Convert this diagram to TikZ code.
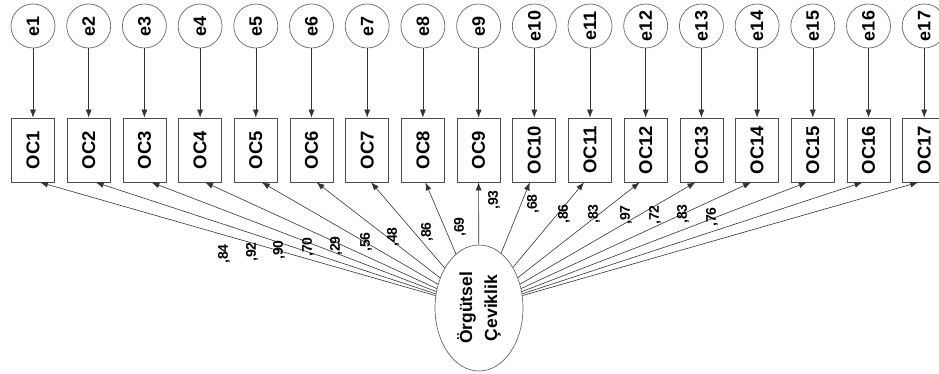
\documentclass[tikz,border=0pt]{standalone}
\usepackage{fontspec}
\setmainfont{Liberation Sans}
\usetikzlibrary{shapes.geometric,arrows.meta}
\tikzset{
	err/.style={circle,draw=black!60,line width=0.7pt,minimum size=44pt,inner sep=0pt,rotate=90,font=\fontsize{18}{18}\selectfont\bfseries},
	obs/.style={rectangle,draw=black!70,line width=0.7pt,minimum width=64pt,minimum height=43pt,inner sep=0pt,rotate=90,font=\fontsize{18.5}{18.5}\selectfont\bfseries},
	lat/.style={ellipse,draw=black!60,line width=0.7pt,minimum width=126pt,minimum height=88pt,inner sep=0pt,rotate=90,align=center,font=\fontsize{17.5}{25}\selectfont\bfseries},
	ld/.style={rotate=90,inner sep=0pt,font=\fontsize{14}{14}\selectfont\bfseries},
	arr/.style={draw=black!80,line width=0.6pt,-{Latex[length=8pt,width=6pt]}}
}
\begin{document}
\begin{tikzpicture}[x=1pt,y=-1pt]
	\useasboundingbox (0,0) rectangle (939,374);
	% error terms
	\node [err] (e1) at (33,26) {e1};
	\node [err] (e2) at (88.7,26) {e2};
	\node [err] (e3) at (144.4,26) {e3};
	\node [err] (e4) at (200.1,26) {e4};
	\node [err] (e5) at (255.8,26) {e5};
	\node [err] (e6) at (311.5,26) {e6};
	\node [err] (e7) at (367.2,26) {e7};
	\node [err] (e8) at (422.9,26) {e8};
	\node [err] (e9) at (478.6,26) {e9};
	\node [err] (e10) at (534.3,26) {e10};
	\node [err] (e11) at (590,26) {e11};
	\node [err] (e12) at (645.7,26) {e12};
	\node [err] (e13) at (701.4,26) {e13};
	\node [err] (e14) at (757.1,26) {e14};
	\node [err] (e15) at (812.8,26) {e15};
	\node [err] (e16) at (868.5,26) {e16};
	\node [err] (e17) at (924.2,26) {e17};

	% items
	\node [obs] (oc1) at (33,150) {OC1};
	\node [obs] (oc2) at (88.7,150) {OC2};
	\node [obs] (oc3) at (144.4,150) {OC3};
	\node [obs] (oc4) at (200.1,150) {OC4};
	\node [obs] (oc5) at (255.8,150) {OC5};
	\node [obs] (oc6) at (311.5,150) {OC6};
	\node [obs] (oc7) at (367.2,150) {OC7};
	\node [obs] (oc8) at (422.9,150) {OC8};
	\node [obs] (oc9) at (478.6,150) {OC9};
	\node [obs] (oc10) at (534.3,150) {OC10};
	\node [obs] (oc11) at (590,150) {OC11};
	\node [obs] (oc12) at (645.7,150) {OC12};
	\node [obs] (oc13) at (701.4,150) {OC13};
	\node [obs] (oc14) at (757.1,150) {OC14};
	\node [obs] (oc15) at (812.8,150) {OC15};
	\node [obs] (oc16) at (868.5,150) {OC16};
	\node [obs] (oc17) at (924.2,150) {OC17};

	\node [lat] (cev) at (479,308) {Örgütsel\\Çeviklik};

	\draw [arr] (e1) -- (oc1);
	\draw [arr] (e2) -- (oc2);
	\draw [arr] (e3) -- (oc3);
	\draw [arr] (e4) -- (oc4);
	\draw [arr] (e5) -- (oc5);
	\draw [arr] (e6) -- (oc6);
	\draw [arr] (e7) -- (oc7);
	\draw [arr] (e8) -- (oc8);
	\draw [arr] (e9) -- (oc9);
	\draw [arr] (e10) -- (oc10);
	\draw [arr] (e11) -- (oc11);
	\draw [arr] (e12) -- (oc12);
	\draw [arr] (e13) -- (oc13);
	\draw [arr] (e14) -- (oc14);
	\draw [arr] (e15) -- (oc15);
	\draw [arr] (e16) -- (oc16);
	\draw [arr] (e17) -- (oc17);

	% loadings (boxes are turned, so .west is the bottom side)
	\draw [arr] (cev) -- ([xshift=7pt]oc1.west);
	\draw [arr] (cev) -- ([xshift=7pt]oc2.west);
	\draw [arr] (cev) -- ([xshift=7pt]oc3.west);
	\draw [arr] (cev) -- ([xshift=5pt]oc4.west);
	\draw [arr] (cev) -- ([xshift=6pt]oc5.west);
	\draw [arr] (cev) -- ([xshift=5pt]oc6.west);
	\draw [arr] (cev) -- ([xshift=4pt]oc7.west);
	\draw [arr] (cev) -- ([xshift=2.5pt]oc8.west);
	\draw [arr] (cev) -- (oc9.west);
	\draw [arr] (cev) -- ([xshift=-4.5pt]oc10.west);
	\draw [arr] (cev) -- ([xshift=-6pt]oc11.west);
	\draw [arr] (cev) -- ([xshift=-6pt]oc12.west);
	\draw [arr] (cev) -- ([xshift=-6pt]oc13.west);
	\draw [arr] (cev) -- ([xshift=-6pt]oc14.west);
	\draw [arr] (cev) -- ([xshift=-6pt]oc15.west);
	\draw [arr] (cev) -- ([xshift=-6pt]oc16.west);
	\draw [arr] (cev) -- ([xshift=-6pt]oc17.west);

	\node [ld] (l1) at (224,254) {,84};
	\node [ld] (l2) at (252,252) {,92};
	\node [ld] (l3) at (279,250) {,90};
	\node [ld] (l4) at (308,247) {,70};
	\node [ld] (l5) at (336,246) {,29};
	\node [ld] (l6) at (366,242) {,56};
	\node [ld] (l7) at (393,237) {,48};
	\node [ld] (l8) at (427,232) {,86};
	\node [ld] (l9) at (460,227) {,69};
	\node [ld] (l10) at (494,200) {,93};
	\node [ld] (l11) at (533,204) {,68};
	\node [ld] (l12) at (564,214) {,86};
	\node [ld] (l13) at (594,214) {,83};
	\node [ld] (l14) at (626,215) {,97};
	\node [ld] (l15) at (655,215) {,72};
	\node [ld] (l16) at (683,214) {,83};
	\node [ld] (l17) at (712,217) {,76};
\end{tikzpicture}
\end{document}
